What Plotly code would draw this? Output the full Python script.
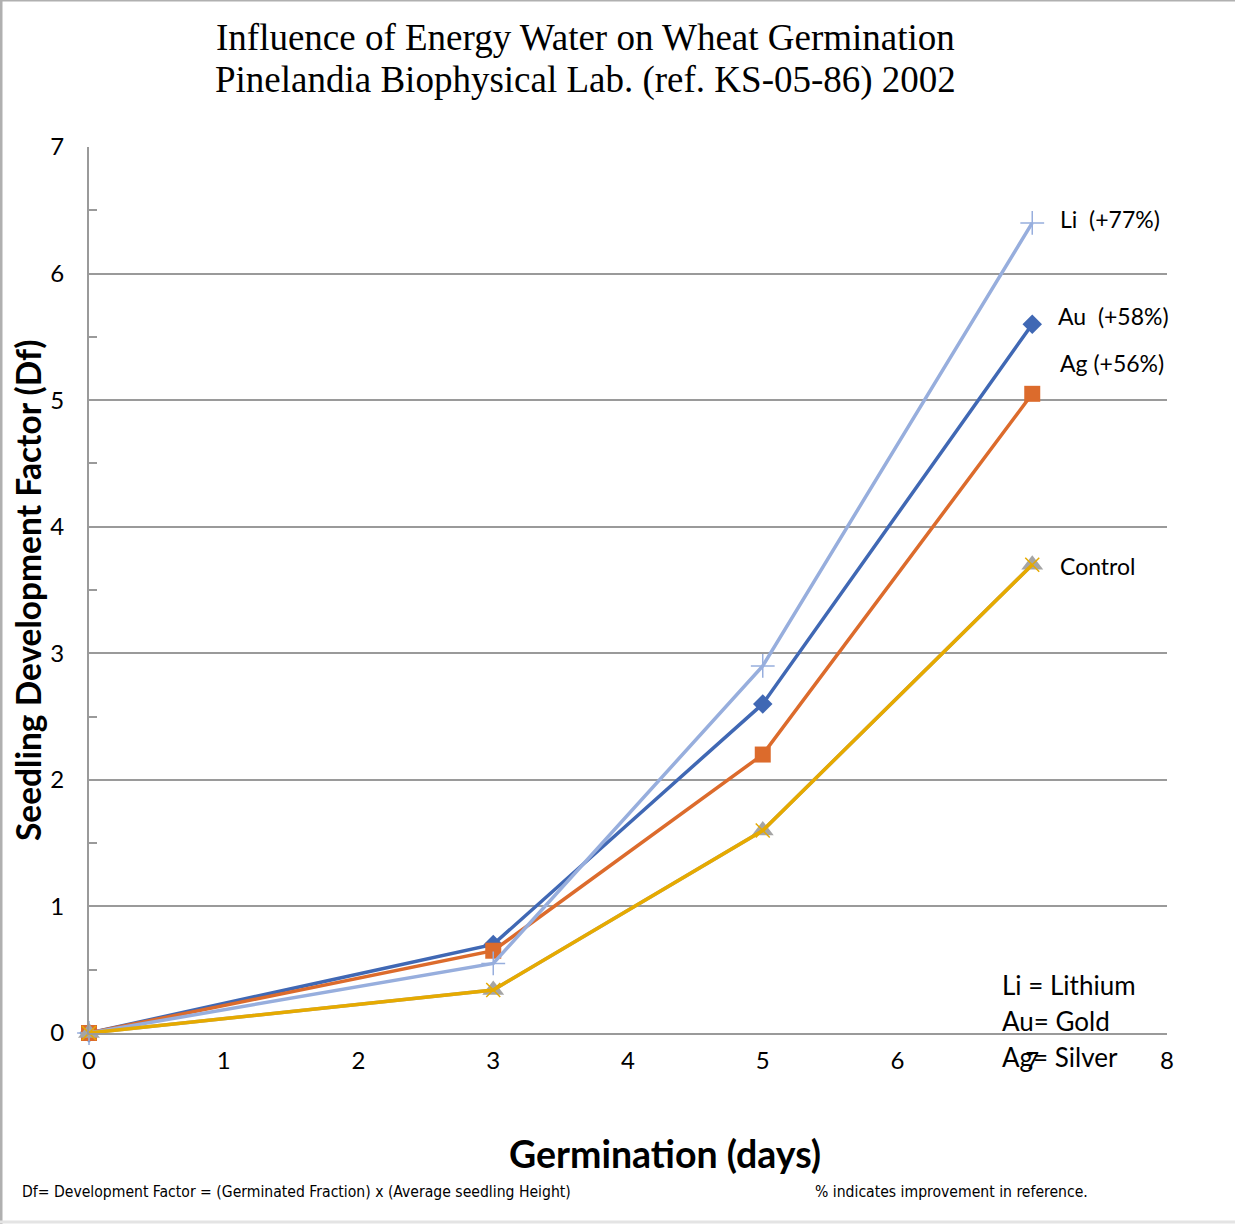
import plotly.graph_objects as go

days = [0, 3, 5, 7]
li = [0, 0.55, 2.9, 6.4]
au = [0, 0.7, 2.6, 5.6]
ag = [0, 0.65, 2.2, 5.05]
control = [0, 0.34, 1.6, 3.7]

title_lines = ["Influence of Energy Water on Wheat Germination",
               "Pinelandia Biophysical Lab. (ref. KS-05-86) 2002"]
series_labels = ["Li  (+77%)", "Au  (+58%)", "Ag (+56%)", "Control"]
key_lines = ["Li = Lithium", "Au= Gold", "Ag= Silver"]

W, H = 1235, 1224
L, R, T, B = 89, 68, 147, 191
pw, ph = W - L - R, H - T - B

def px(x):
    return (x - L) / pw

def py(y):
    return (H - B - y) / ph

fig = go.Figure()
fig.add_trace(go.Scatter(x=days, y=au, mode="lines+markers", name="Au", cliponaxis=False,
                         line=dict(color="#4068B4", width=3.5),
                         marker=dict(symbol="diamond", size=15, color="#4068B4")))
fig.add_trace(go.Scatter(x=days, y=ag, mode="lines+markers", name="Ag", cliponaxis=False,
                         line=dict(color="#DC6B2C", width=3.5),
                         marker=dict(symbol="square", size=16, color="#DC6B2C")))
fig.add_trace(go.Scatter(x=days, y=li, mode="lines+markers", name="Li", cliponaxis=False,
                         line=dict(color="#97AEDD", width=3.5),
                         marker=dict(symbol="cross-thin", size=17,
                                     line=dict(color="#97AEDD", width=1.5))))
fig.add_trace(go.Scatter(x=days, y=control, mode="lines+markers", name="Control (ref)",
                         cliponaxis=False,
                         line=dict(color="#A5A5A5", width=3.5),
                         marker=dict(symbol="triangle-up", size=19, color="#A5A5A5")))
fig.add_trace(go.Scatter(x=days, y=control, mode="lines+markers", name="Control",
                         cliponaxis=False,
                         line=dict(color="#E6AA00", width=3.5),
                         marker=dict(symbol="x-thin", size=14,
                                     line=dict(color="#E6AA00", width=1.5))))

font_main = "Lato, Carlito, Calibri, sans-serif"
font_note = "DejaVu Sans Condensed, DejaVu Sans"
font_title = "Liberation Serif, Times New Roman, serif"

annotations = []
for i, txt in enumerate(title_lines):
    annotations.append(dict(text=txt, x=px(585), y=py(37 + 43 * i), xref="paper", yref="paper",
                            xanchor="center", yanchor="middle", showarrow=False,
                            font=dict(family=font_title, size=37, color="black")))
label_pos = [(1058, 219), (1056, 316), (1058, 363), (1058, 566)]
for txt, (ax_, ay_) in zip(series_labels, label_pos):
    annotations.append(dict(text=txt, x=px(ax_), y=py(ay_), xref="paper", yref="paper",
                            xanchor="left", yanchor="middle", showarrow=False,
                            font=dict(family=font_main, size=23, color="black")))
for i, txt in enumerate(key_lines):
    annotations.append(dict(text=txt, x=px(1000), y=py(985 + 36 * i), xref="paper", yref="paper",
                            xanchor="left", yanchor="middle", showarrow=False,
                            font=dict(family=font_main, size=26, color="black")))
annotations.append(dict(text="Df= Development Factor = (Germinated Fraction) x (Average seedling Height)",
                        x=px(20), y=py(1192), xref="paper", yref="paper", xanchor="left",
                        yanchor="middle", showarrow=False,
                        font=dict(family=font_note, size=15.6, color="black")))
annotations.append(dict(text="% indicates improvement in reference.",
                        x=px(813), y=py(1192), xref="paper", yref="paper", xanchor="left",
                        yanchor="middle", showarrow=False,
                        font=dict(family=font_note, size=15.6, color="black")))
annotations.append(dict(text="<b>Germination (days)</b>", x=px(665), y=py(1153), xref="paper",
                        yref="paper", xanchor="center", yanchor="middle", showarrow=False,
                        font=dict(family=font_main, size=37.5, color="black")))
annotations.append(dict(text="<b>Seedling Development Factor (Df)</b>", x=px(28), y=py(591),
                        xref="paper", yref="paper", xanchor="center", yanchor="middle",
                        showarrow=False, textangle=-90,
                        font=dict(family=font_main, size=33.5, color="black")))

shapes = [
    dict(type="line", xref="paper", yref="paper", x0=px(1), x1=px(1), y0=py(0), y1=py(H),
         line=dict(color="#B0B0B0", width=3)),
    dict(type="line", xref="paper", yref="paper", x0=px(0), x1=px(W), y0=py(0.5), y1=py(0.5),
         line=dict(color="#B0B0B0", width=2)),
    dict(type="line", xref="paper", yref="paper", x0=px(0), x1=px(W), y0=py(1222), y1=py(1222),
         line=dict(color="#E4E4E4", width=3)),
]

fig.update_layout(
    width=W, height=H,
    margin=dict(l=L, r=R, t=T, b=B),
    paper_bgcolor="white", plot_bgcolor="white",
    showlegend=False,
    xaxis=dict(range=[0, 8], dtick=1, showgrid=False, zeroline=False, showline=True,
               linecolor="#9A9A9A", linewidth=2, ticks="", ticklen=0,
               tickfont=dict(family=font_main, size=24, color="black")),
    yaxis=dict(range=[0, 7], dtick=1, showgrid=True, gridcolor="#9A9A9A", gridwidth=1.5,
               zeroline=False, showline=True, linecolor="#9A9A9A", linewidth=2, ticks="",
               tickfont=dict(family=font_main, size=24, color="black"),
               minor=dict(dtick=0.5, ticks="inside", ticklen=8, tickcolor="#9A9A9A",
                          tickwidth=1.5, showgrid=False)),
    annotations=annotations,
    shapes=shapes,
)
fig.update_xaxes(ticklabelstandoff=5)
fig.update_yaxes(ticklabelstandoff=18)

fig.write_html("out.html", config={"displayModeBar": False},
               post_script="document.body.style.margin='0';")
